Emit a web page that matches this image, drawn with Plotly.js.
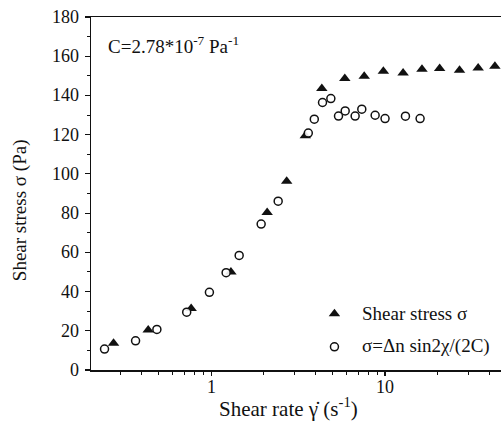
<!DOCTYPE html>
<html>
<head>
<meta charset="utf-8">
<script src="https://cdn.plot.ly/plotly-3.0.1.min.js"></script>
<style>
html,body{margin:0;padding:0;background:#fff;}
#chart{width:501px;height:426px;}
</style>
</head>
<body>
<div id="chart"></div>
<script>
var triX = [0.275, 0.435, 0.768, 1.30, 2.10, 2.72, 3.48, 4.33, 5.87, 7.59, 9.78, 12.7, 16.3, 20.6, 26.8, 34.3, 42.8];
var triY = [13.6, 20.4, 31.4, 50.0, 80.3, 96.3, 119.5, 143.5, 148.6, 149.8, 152.3, 151.5, 153.3, 153.7, 152.8, 154.0, 154.9];
var circX = [0.244, 0.368, 0.488, 0.724, 0.978, 1.22, 1.45, 1.94, 2.43, 3.62, 3.92, 4.37, 4.88, 5.40, 5.90, 6.73, 7.35, 8.77, 10.0, 13.1, 15.9];
var circY = [10.7, 14.9, 20.7, 29.5, 39.6, 49.6, 58.4, 74.4, 86.1, 120.8, 127.9, 136.4, 138.4, 129.5, 132.1, 129.5, 133.0, 129.9, 128.2, 129.4, 128.2];
var xMajor = [1, 10];
var xMajorText = ['1', '10'];
var xMinor = [0.3,0.4,0.5,0.6,0.7,0.8,0.9,2,3,4,5,6,7,8,9,20,30,40];
var yMajor = [0, 20, 40, 60, 80, 100, 120, 140, 160, 180];
var legendNames = ['Shear stress \u03C3', '\u03C3=\u0394n sin2\u03C7/(2C)'];
var noteText = 'C=2.78*10<sup>-7</sup> Pa<sup>-1</sup>';
var xTitle = 'Shear rate \u03B3\u0307 (s<sup>-1</sup>)';
var yTitle = 'Shear stress \u03C3 (Pa)';

var F = "Liberation Serif";
var ink = '#111';

var traces = [
  {x: triX, y: triY, type: 'scatter', mode: 'markers', name: ' ', legendgroup: 'a',
   marker: {symbol: 'triangle-up', size: 10, color: ink, line: {width: 0}}},
  {x: circX, y: circY, type: 'scatter', mode: 'markers', name: ' ', legendgroup: 'b',
   marker: {symbol: 'circle', size: 8, color: 'rgba(255,255,255,0.9)', line: {width: 1.5, color: ink}}}
];

var ann = [];
function txt(o, size) {
  o.showarrow = false;
  o.font = {family: F, size: size, color: ink};
  ann.push(o);
}
yMajor.forEach(function (v) {
  txt({xref: 'paper', yref: 'y', x: -0.024, y: v, xanchor: 'right', yanchor: 'middle', text: String(v)}, 18);
});
xMajor.forEach(function (v, i) {
  txt({xref: 'x', yref: 'paper', x: Math.log10(v), y: -0.047, xanchor: 'center', yanchor: 'middle', text: xMajorText[i]}, 18);
});
txt({xref: 'paper', yref: 'paper', x: 0.037, y: 0.921, xanchor: 'left', yanchor: 'middle', text: noteText}, 19);
txt({xref: 'paper', yref: 'paper', x: (288 - 91) / 410, y: -0.105, xanchor: 'center', yanchor: 'middle', text: xTitle}, 21);
txt({xref: 'paper', yref: 'paper', x: -0.173, y: 0.453, xanchor: 'center', yanchor: 'middle', textangle: -90, text: yTitle}, 19);
legendNames.forEach(function (n, i) {
  txt({xref: 'paper', yref: 'paper', x: (360 - 91) / 410, y: (370 - [313, 346][i]) / 353, xanchor: 'left', yanchor: 'middle', text: n}, 19);
});

var layout = {
  width: 501, height: 426,
  margin: {l: 91, r: 0, t: 17, b: 56},
  paper_bgcolor: '#fff', plot_bgcolor: '#fff',
  showlegend: true,
  legend: {x: 0.545, y: 0.209, xanchor: 'left', yanchor: 'top', bgcolor: 'rgba(0,0,0,0)',
           font: {family: F, size: 17, color: ink},
           traceorder: 'grouped', tracegroupgap: 8},
  xaxis: {type: 'log', range: [Math.log10(0.204), Math.log10(46.4)],
          tickmode: 'array', tickvals: xMajor, showticklabels: false,
          ticks: 'outside', ticklen: 4, tickwidth: 1.2, tickcolor: ink,
          minor: {tickmode: 'array', tickvals: xMinor, ticks: 'outside', ticklen: 3, tickwidth: 1, tickcolor: ink, showgrid: false},
          showline: true, linecolor: ink, linewidth: 1.5, mirror: true,
          showgrid: false, zeroline: false},
  yaxis: {range: [0, 180], tickmode: 'array', tickvals: yMajor, showticklabels: false,
          ticks: 'outside', ticklen: 5, tickwidth: 1.2, tickcolor: ink,
          minor: {dtick: 10, ticks: 'outside', ticklen: 3, tickwidth: 1, tickcolor: ink, showgrid: false},
          showline: true, linecolor: ink, linewidth: 1.5, mirror: false,
          showgrid: false, zeroline: false},
  annotations: ann
};

Plotly.newPlot('chart', traces, layout, {displayModeBar: false, staticPlot: true});
</script>
</body>
</html>
